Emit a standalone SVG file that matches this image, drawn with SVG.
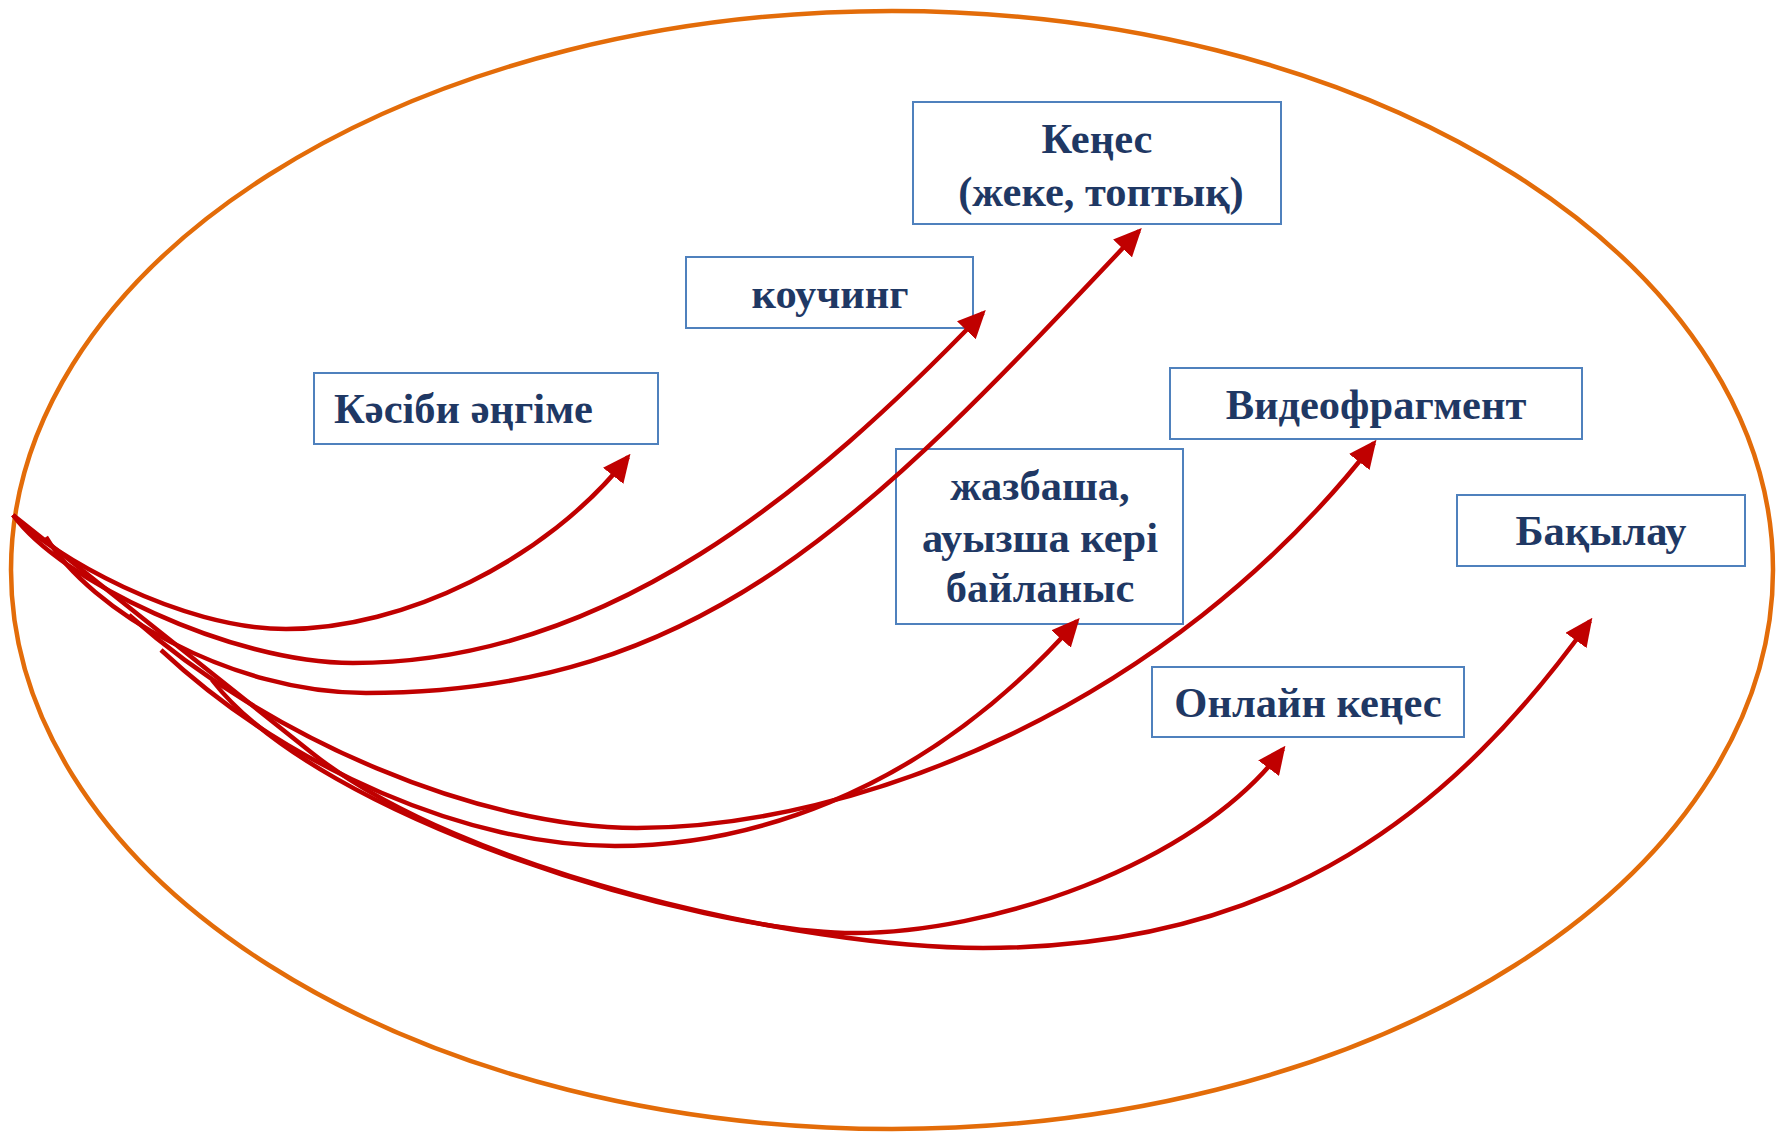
<svg xmlns="http://www.w3.org/2000/svg" width="1785" height="1132" viewBox="0 0 1785 1132">
<defs>
<style>
.box{fill:#ffffff;stroke:#4F81BD;stroke-width:2}
.lbl{font-family:"Liberation Serif","Times New Roman",serif;font-weight:bold;font-size:42.5px;fill:#1F3864;text-anchor:middle}
.arc{fill:none;stroke:#C00000;stroke-width:4.5}
</style>
<marker id="ah" markerUnits="userSpaceOnUse" markerWidth="28" markerHeight="26" viewBox="0 0 28 26" refX="24" refY="13" orient="auto">
<path d="M0,0 L28,13 L0,26 z" fill="#C00000"/>
</marker>
</defs>
<rect width="1785" height="1132" fill="#ffffff"/>
<ellipse id="frame" cx="892" cy="570" rx="881" ry="559" fill="none" stroke="#E36C09" stroke-width="4.5"/>
<g id="n-kenes"><rect class="box" x="913" y="102" width="368" height="122"/><text class="lbl" x="1097" y="153">Кеңес</text><text class="lbl" x="1101" y="206">(жеке, топтық)</text></g>
<g id="n-kouching"><rect class="box" x="686" y="257" width="287" height="71"/><text class="lbl" x="830" y="308">коучинг</text></g>
<g id="n-kasibi"><rect class="box" x="314" y="373" width="344" height="71"/><text class="lbl" x="334" y="423" style="text-anchor:start">Кәсіби әңгіме</text></g>
<g id="n-video"><rect class="box" x="1170" y="368" width="412" height="71"/><text class="lbl" x="1376" y="419">Видеофрагмент</text></g>
<g id="n-zhazbasha"><rect class="box" x="896" y="449" width="287" height="175"/><text class="lbl" x="1040" y="500">жазбаша,</text><text class="lbl" x="1040" y="552">ауызша кері</text><text class="lbl" x="1040" y="602">байланыс</text></g>
<g id="n-bakylau"><rect class="box" x="1457" y="495" width="288" height="71"/><text class="lbl" x="1601" y="545">Бақылау</text></g>
<g id="n-online"><rect class="box" x="1152" y="667" width="312" height="70"/><text class="lbl" x="1308" y="717">Онлайн кеңес</text></g>
<g id="connectors">
<path class="arc" marker-end="url(#ah)" d="M13,515 C50,555 180,629 286,629 C403,629 546,561 628,457"/>
<path class="arc" marker-end="url(#ah)" d="M13,515 C60,580 230,663 353,663 C609,663 813,489 983,313"/>
<path class="arc" marker-end="url(#ah)" d="M46,537 C90,610 230,693 366,693 C706,693 872,514 1139,231"/>
<path class="arc" marker-end="url(#ah)" d="M161,650 C290,770 470,846 615,846 C734,846 915,804 1077,621"/>
<path class="arc" marker-end="url(#ah)" d="M129,615 C270,740 480,828 637,828 C855,828 1168,708 1374,443"/>
<path class="arc" marker-end="url(#ah)" d="M212,680 C320,820 700,933 855,933 C985,933 1193,869 1283,749"/>
<path class="arc" marker-end="url(#ah)" d="M13,515 L312,753 C462,872 800,948 983,948 C1283,948 1455,808.5 1590,621"/>
</g>
</svg>
